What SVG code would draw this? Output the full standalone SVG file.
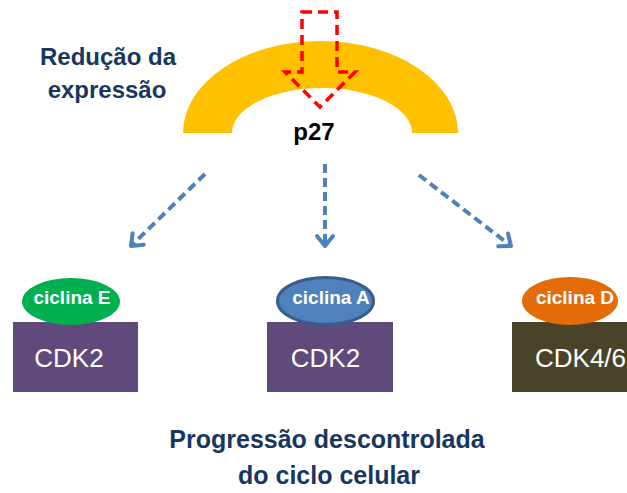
<svg xmlns="http://www.w3.org/2000/svg" width="627" height="493" viewBox="0 0 627 493">
<defs>
<style>
.title{font-family:"Liberation Sans",Arial,sans-serif;font-weight:bold;fill:#17375E;text-anchor:middle}
.cyc{font-family:"Liberation Sans",Arial,sans-serif;font-weight:bold;font-size:19px;fill:#fff;text-anchor:middle}
.cdk{font-family:"Liberation Sans",Arial,sans-serif;font-size:26px;fill:#fff;text-anchor:middle}
.conn{stroke:#4F81BD;stroke-width:4;fill:none;stroke-dasharray:9 5;marker-end:url(#ah)}
</style>
<marker id="ah" markerUnits="userSpaceOnUse" markerWidth="30" markerHeight="30" refX="0" refY="0" viewBox="-15 -15 30 30" orient="auto">
<polyline points="-10,-8 0,0 -10,8" fill="none" stroke="#4F81BD" stroke-width="4" stroke-linecap="round" stroke-linejoin="round"/>
</marker>
</defs>
<rect width="627" height="493" fill="#fff"/>
<g id="arch">
<path d="M183,133 A137.5,92 0 0 1 458,133 L412,133 A90,45 0 0 0 232,133 Z" fill="#FFC000"/>
</g>
<g id="down-arrow">
<polygon points="302,12 337,12 337,72 355,72 320,107 285,72 302,72" fill="none" stroke="#FF0000" stroke-width="3.5" stroke-dasharray="10 6"/>
</g>
<g id="label-reducao">
<text class="title" x="108" y="65" font-size="24">Redução da</text>
<text class="title" x="107" y="98" font-size="24">expressão</text>
</g>
<g id="p27">
<text x="314" y="140" font-family="Liberation Sans,Arial,sans-serif" font-weight="bold" font-size="24" fill="#000" text-anchor="middle">p27</text>
</g>
<g id="connectors">
<line class="conn" x1="205" y1="174" x2="131" y2="246"/>
<line class="conn" x1="325" y1="164" x2="325" y2="246"/>
<line class="conn" x1="419" y1="175" x2="511" y2="246"/>
</g>
<g id="cdk2-e">
<rect x="13" y="322" width="125" height="70" fill="#604A7B"/>
<text class="cdk" x="69" y="367">CDK2</text>
</g>
<g id="ciclina-e">
<ellipse cx="71" cy="301.5" rx="49" ry="23.5" fill="#00B050"/>
<text class="cyc" x="72" y="304">ciclina E</text>
</g>
<g id="cdk2-a">
<rect x="267" y="322" width="126" height="70" fill="#604A7B"/>
<text class="cdk" x="325.5" y="367">CDK2</text>
</g>
<g id="ciclina-a">
<ellipse cx="325.5" cy="301" rx="48" ry="23.5" fill="#4F81BD" stroke="#385D8A" stroke-width="3"/>
<text class="cyc" x="331" y="304">ciclina A</text>
</g>
<g id="cdk46">
<rect x="512" y="322" width="130" height="70" fill="#494429"/>
<text class="cdk" x="535" y="367" style="text-anchor:start">CDK4/6</text>
</g>
<g id="ciclina-d">
<ellipse cx="570" cy="301" rx="48" ry="24" fill="#E36C09"/>
<text class="cyc" x="575" y="304">ciclina D</text>
</g>
<g id="label-progressao">
<text class="title" x="327" y="448" font-size="25">Progressão descontrolada</text>
<text class="title" x="329" y="484" font-size="25">do ciclo celular</text>
</g>
</svg>
